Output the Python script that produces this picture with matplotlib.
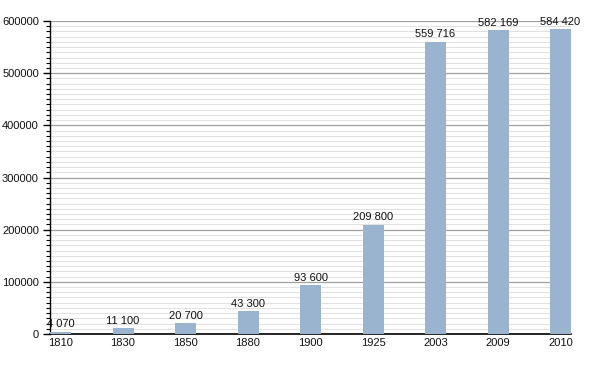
import matplotlib.pyplot as plt
from matplotlib.ticker import MultipleLocator

plt.rcParams['font.family'] = ['Liberation Sans', 'DejaVu Sans']

years = ['1810', '1830', '1850', '1880', '1900', '1925', '2003', '2009', '2010']
population = [4070, 11100, 20700, 43300, 93600, 209800, 559716, 582169, 584420]

bar_color = '#9ab3cf'

fig = plt.figure(figsize=(6, 3.73), dpi=100)
ax = fig.add_axes([50 / 600, 1 - 334 / 373, 521 / 600, 313 / 373])

x = range(len(years))
ax.bar(x, population, width=0.336, color=bar_color, zorder=3)

for i, v in zip(x, population):
    label = '{:,}'.format(v).replace(',', ' ')
    ax.text(i, v + 5000, label, ha='center', va='bottom', fontsize=8, color='#111111', zorder=4)

ax.set_xlim(-0.168, len(years) - 1 + 0.168)
ax.set_ylim(0, 600000)
ax.set_xticks(list(x))
ax.set_xticklabels(years, fontsize=8, color='#111111')
ax.yaxis.set_major_locator(MultipleLocator(100000))
ax.yaxis.set_minor_locator(MultipleLocator(10000))
ax.set_yticklabels([str(int(t)) for t in ax.get_yticks()], fontsize=8, color='#111111')

ax.grid(axis='y', which='major', color='#a0a0a0', linewidth=0.9, zorder=1)
ax.grid(axis='y', which='minor', color='#e2e2e2', linewidth=0.8, zorder=1)

for s in ['top', 'right']:
    ax.spines[s].set_visible(False)
ax.spines['left'].set_linewidth(1.0)
ax.spines['bottom'].set_linewidth(1.2)
ax.tick_params(axis='x', length=0, pad=3)
ax.tick_params(axis='y', which='major', length=5, width=1, direction='out', pad=3)
ax.tick_params(axis='y', which='minor', length=3, width=0.8, direction='out')

fig.savefig('out.png', dpi=100)
